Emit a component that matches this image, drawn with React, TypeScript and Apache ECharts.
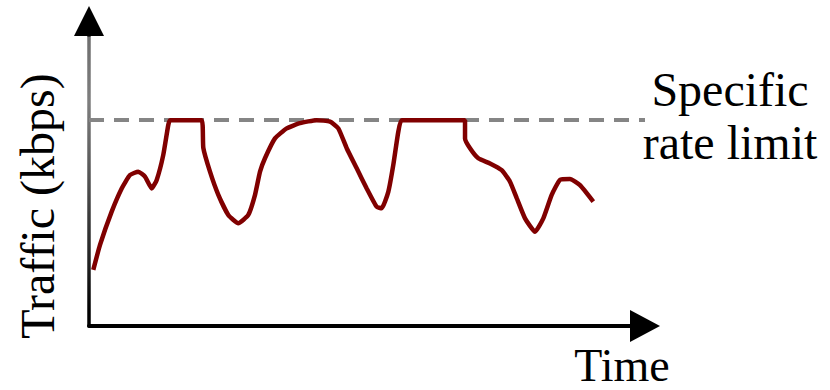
import React, { useEffect, useRef } from "react";
import * as echarts from "echarts";

// Schematic data (time in arbitrary units, traffic in % of axis)
const TIME = [
  0.77, 1.98, 4.08, 5.88, 7.37, 8.87, 10.07, 11.28, 12.18, 13.36, 14.26, 14.57,
  20.27, 20.56, 21.76, 23.26, 25.05, 26.85, 28.65, 29.86, 30.76, 31.65, 33.45,
  35.56, 37.95, 40.95, 43.35, 44.84, 46.35, 48.15, 49.95, 51.74, 52.64, 53.83,
  54.73, 55.63, 56.24, 67.63, 67.63, 68.53, 70.02, 72.12, 74.23, 75.72, 76.93,
  78.42, 80.22, 81.71, 83.22, 84.71, 86.51, 88.31, 90.7,
];
const TRAFFIC = [
  18.4, 26.6, 37.5, 45.1, 49.5, 50.6, 49.0, 45.1, 47.9, 56.1, 65.9, 67.5,
  67.5, 58.4, 50.6, 43.0, 36.4, 33.7, 36.4, 43.0, 50.6, 55.0, 61.5,
  64.8, 66.5, 67.5, 67.0, 64.8, 58.3, 51.7, 45.1, 39.1, 38.6, 44.0,
  52.8, 63.7, 67.5, 67.5, 61.5, 58.3, 55.0, 53.3, 51.1, 47.3, 41.9,
  35.3, 30.9, 35.3, 43.0, 47.9, 48.2, 46.2, 40.8,
];
const RATE_LIMIT = 67.5;
const X_MAX = 100;
const Y_MAX = 100;

const Y_LABEL = "Traffic (kbps)";
const X_LABEL = "Time";
const LIMIT_LABEL = "Specific\nrate limit";

const FONT = "'Liberation Serif', 'Times New Roman', serif";

export default function App() {
  const ref = useRef<HTMLDivElement>(null);

  useEffect(() => {
    if (!ref.current) return;
    const chart = echarts.init(ref.current, null, { renderer: "svg" });

    const yGradient = new echarts.graphic.LinearGradient(
      0, 6, 0, 326,
      [
        { offset: 0, color: "#000000" },
        { offset: 0.094, color: "#000000" },
        { offset: 0.097, color: "#6e6e6e" },
        { offset: 0.3, color: "#7e7e7e" },
        { offset: 0.48, color: "#5e5e5e" },
        { offset: 0.65, color: "#3c3c3c" },
        { offset: 0.82, color: "#1e1e1e" },
        { offset: 0.95, color: "#000000" },
        { offset: 1, color: "#000000" },
      ],
      true
    );

    chart.setOption({
      animation: false,
      backgroundColor: "#ffffff",
      grid: { left: 89, right: 185, top: 21, bottom: 64, outerBoundsMode: "none" },
      xAxis: {
        type: "value",
        min: 0,
        max: X_MAX,
        axisLine: {
          show: true,
          symbol: ["none", "triangle"],
          symbolSize: [32, 30],
          lineStyle: { color: "#000000", width: 4 },
        },
        axisTick: { show: false },
        axisLabel: { show: false },
        splitLine: { show: false },
      },
      yAxis: {
        type: "value",
        min: 0,
        max: Y_MAX,
        axisLine: {
          show: true,
          symbol: ["none", "triangle"],
          symbolSize: [30, 30],
          lineStyle: { color: yGradient, width: 3.5 },
        },
        axisTick: { show: false },
        axisLabel: { show: false },
        splitLine: { show: false },
      },
      series: [
        {
          type: "line",
          z: 3,
          data: TIME.map((t, i) => [t, TRAFFIC[i]]),
          showSymbol: false,
          smooth: 0.15,
          lineStyle: { color: "#800000", width: 4.5 },
          markLine: {
            z: 1,
            silent: true,
            symbol: ["none", "none"],
            label: { show: false },
            lineStyle: { color: "#858585", width: 4, type: [15, 10] },
            data: [{ yAxis: RATE_LIMIT }],
          },
        },
      ],
      graphic: [
        {
          type: "text",
          x: 37,
          y: 206,
          rotation: Math.PI / 2,
          style: {
            text: Y_LABEL,
            font: `48px ${FONT}`,
            fill: "#000000",
            align: "center",
            verticalAlign: "middle",
          },
        },
        {
          type: "text",
          x: 730,
          y: 116,
          style: {
            text: LIMIT_LABEL,
            font: `48px ${FONT}`,
            lineHeight: 53,
            fill: "#000000",
            align: "center",
            verticalAlign: "middle",
          },
        },
        {
          type: "text",
          x: 622,
          y: 365,
          style: {
            text: X_LABEL,
            font: `46px ${FONT}`,
            fill: "#000000",
            align: "center",
            verticalAlign: "middle",
          },
        },
      ],
    });

    return () => chart.dispose();
  }, []);

  return (
    <div
      ref={ref}
      style={{ position: "fixed", left: 0, top: 0, width: 830, height: 390 }}
    />
  );
}
